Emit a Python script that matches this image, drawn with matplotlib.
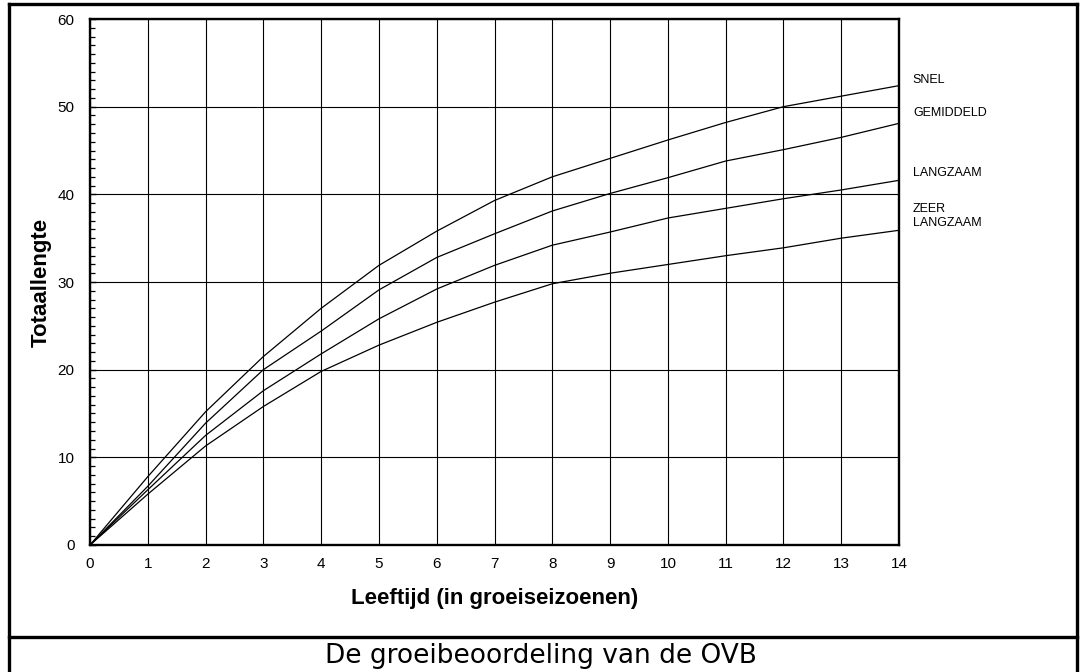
"""
Groeicurven voor de vier groeiklassen van de OVB
(totaallengte tegen leeftijd in groeiseizoenen).
"""

import matplotlib
matplotlib.use('Agg')
import matplotlib.pyplot as plt
from matplotlib.lines import Line2D
from matplotlib.ticker import MultipleLocator

#------------------------------------------------------------------------
# Data: lengte per groeiseizoen voor elke groeiklasse
#------------------------------------------------------------------------
leeftijd  = [0, 1, 2, 3, 4, 5, 6, 7, 8, 9, 10, 11, 12, 13, 14]

snel      = [0, 7.8, 15.2, 21.5, 27.0, 31.9, 35.8, 39.3, 42.0,
             44.1, 46.2, 48.2, 50.0, 51.2, 52.4]
gemiddeld = [0, 6.7, 13.9, 20.0, 24.4, 29.1, 32.8, 35.5, 38.1,
             40.1, 41.9, 43.8, 45.1, 46.5, 48.1]
langzaam  = [0, 6.3, 12.5, 17.6, 21.8, 25.8, 29.2, 31.9, 34.2,
             35.7, 37.3, 38.4, 39.5, 40.5, 41.6]
zeer_langzaam = [0, 5.8, 11.3, 15.8, 19.8, 22.8, 25.4, 27.7, 29.8,
                 31.0, 32.0, 33.0, 33.9, 35.0, 35.9]

klasse_namen = ['SNEL', 'GEMIDDELD', 'LANGZAAM', 'ZEER\nLANGZAAM']
klasse_y     = [53.0, 49.3, 42.4, 37.5]     # hoogte van de namen rechts

x_ticks = list(range(0, 15))
y_ticks = [0, 10, 20, 30, 40, 50, 60]

x_label = 'Leeftijd (in groeiseizoenen)'
y_label = 'Totaallengte'
caption = 'De groeibeoordeling van de OVB'

#------------------------------------------------------------------------
# Figure and axes
#------------------------------------------------------------------------
plt.rcParams['font.family'] = ['Liberation Sans', 'DejaVu Sans']

fig = plt.figure(figsize=(10.82, 6.72), dpi=100)
ax  = fig.add_axes([0.0832, 0.1890, 0.7477, 0.7827])

for reeks in [snel, gemiddeld, langzaam, zeer_langzaam]:
    ax.plot(leeftijd, reeks, color='black', lw=0.9, zorder=3)

ax.set_xlim(0, 14)
ax.set_ylim(0, 60)
ax.set_xticks(x_ticks)
ax.set_yticks(y_ticks)
ax.yaxis.set_minor_locator(MultipleLocator(1))

ax.grid(True, which='major', color='black', lw=0.8)
ax.set_axisbelow(True)

for spine in ax.spines.values():
    spine.set_linewidth(1.7)

ax.tick_params(axis='x', which='major', direction='in', length=0,
               pad=9, labelsize=11)
ax.tick_params(axis='y', which='major', direction='in', length=4,
               width=1.0, pad=11, labelsize=11)
ax.tick_params(axis='y', which='minor', direction='in', length=3.6,
               width=0.9)

ax.set_xlabel(x_label, fontsize=16, fontweight='bold', labelpad=12)
ax.set_ylabel(y_label, fontsize=16, fontweight='bold', labelpad=4)

#-----------------------------------------
# Namen van de groeiklassen naast de as
#-----------------------------------------
for naam, y in zip(klasse_namen, klasse_y):
    ax.text(14.24, y, naam, fontsize=9, ha='left', va='center',
            linespacing=1.25, clip_on=False)

#------------------------------------------
# Kader rond de figuur met onderschrift
#------------------------------------------
x0, x1 = 8.5 / 1082, 1076.5 / 1082
y_top  = 1 - 3.5 / 672
y_sep  = 1 - 637 / 672
kader = dict(color='black', lw=2.4, transform=fig.transFigure,
             solid_capstyle='projecting')
fig.add_artist(Line2D([x0, x1], [y_top, y_top], **kader))
fig.add_artist(Line2D([x0, x0], [0, y_top], **kader))
fig.add_artist(Line2D([x1, x1], [0, y_top], **kader))
fig.add_artist(Line2D([x0, x1], [y_sep, y_sep], **kader))

fig.text(0.5, 1 - 656 / 672, caption, fontsize=19, ha='center',
         va='center', family='DejaVu Sans')

plt.savefig('out.png', dpi=100)
plt.close()
